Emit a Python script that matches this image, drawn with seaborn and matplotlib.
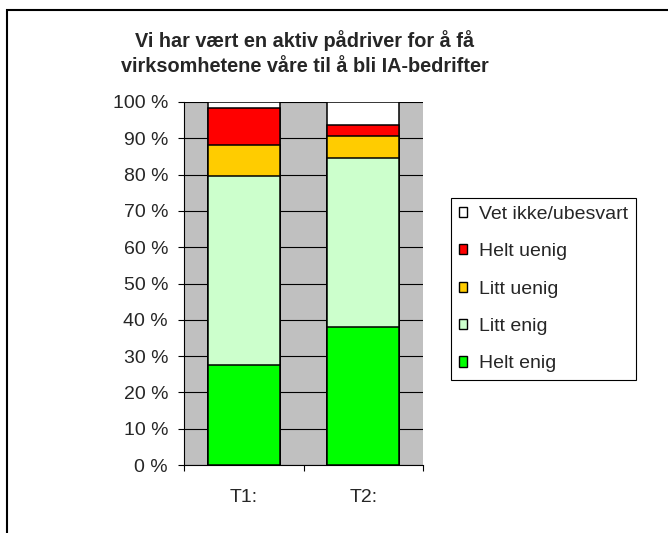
import numpy as np
import pandas as pd
import matplotlib.pyplot as plt
import matplotlib.patches as mpatches
from matplotlib.ticker import FixedLocator
import seaborn as sns

# Data (percent of respondents)
periods = ['T1:', 'T2:']
categories = ['Helt enig', 'Litt enig', 'Litt uenig', 'Helt uenig', 'Vet ikke/ubesvart']
helt_enig = [27.5, 38.1]
litt_enig = [52.0, 46.5]
litt_uenig = [8.7, 6.1]
helt_uenig = [10.1, 2.9]
vet_ikke = [1.7, 6.4]
colors = ['#00FF00', '#CCFFCC', '#FFCC00', '#FF0000', '#FFFFFF']

sns.set_theme(style='white')
plt.rcParams['font.family'] = ['Liberation Sans', 'DejaVu Sans']

df = pd.DataFrame({'period': periods, 'Helt enig': helt_enig, 'Litt enig': litt_enig,
                   'Litt uenig': litt_uenig, 'Helt uenig': helt_uenig,
                   'Vet ikke/ubesvart': vet_ikke})
# cumulative heights so that stacking is done by overlapping bars
cum = df[categories].cumsum(axis=1)

fig = plt.figure(figsize=(6.68, 5.33), dpi=100)
ax = fig.add_axes([184/668, 1-465/533, (423-184)/668, (465-102)/533])
ax.set_facecolor('#C0C0C0')

# draw from the top segment down
for cat, col in reversed(list(zip(categories, colors))):
    sns.barplot(x=df['period'], y=cum[cat], color=col, width=0.6, edgecolor='black',
                linewidth=1.1, saturation=1, ax=ax, zorder=3)

ax.set_xlim(-0.5, 1.5)
ax.set_ylim(0, 100)
ax.set_yticks(np.arange(0, 101, 10))
ax.set_yticklabels([f'{v} %' for v in range(0, 101, 10)], fontsize=14)
ax.yaxis.grid(True, color='black', linewidth=0.8, zorder=0)
ax.set_axisbelow(True)
ax.tick_params(axis='y', left=True, length=4.5, width=0.8, color='black', pad=7)
ax.tick_params(axis='x', bottom=False, labelsize=14, pad=11)
ax.xaxis.set_minor_locator(FixedLocator([-0.5, 0.5, 1.5]))
ax.tick_params(axis='x', which='minor', bottom=True, length=4.5, width=0.8, color='black')
ax.set_xlabel('')
ax.set_ylabel('')
for side in ['top', 'right']:
    ax.spines[side].set_visible(False)
for side in ['left', 'bottom']:
    ax.spines[side].set_color('black')
    ax.spines[side].set_linewidth(0.8)

fig.text(305/668, 1-53/533, 'Vi har vært en aktiv pådriver for å få\nvirksomhetene våre til å bli IA-bedrifter',
         ha='center', va='center', fontsize=14.3, fontweight='bold', linespacing=1.35)

handles = [mpatches.Patch(facecolor=c, edgecolor='black', linewidth=1.0, label=l)
           for l, c in zip(categories, colors)]
leg = fig.legend(handles=handles[::-1], loc='upper left',
                 bbox_to_anchor=(451/668, 1-198/533), fontsize=14, frameon=True,
                 fancybox=False, edgecolor='black', framealpha=1, borderpad=0.4,
                 labelspacing=1.05, handlelength=0.42, handleheight=0.42,
                 handletextpad=0.6, borderaxespad=0)
leg.get_frame().set_linewidth(0.8)

# chart border
fig.patches.append(mpatches.Rectangle((7/668, -0.1), 1.2, 1-10/533+0.1, transform=fig.transFigure,
                                      fill=False, edgecolor='black', linewidth=1.5))

fig.savefig('out.png', dpi=100)
